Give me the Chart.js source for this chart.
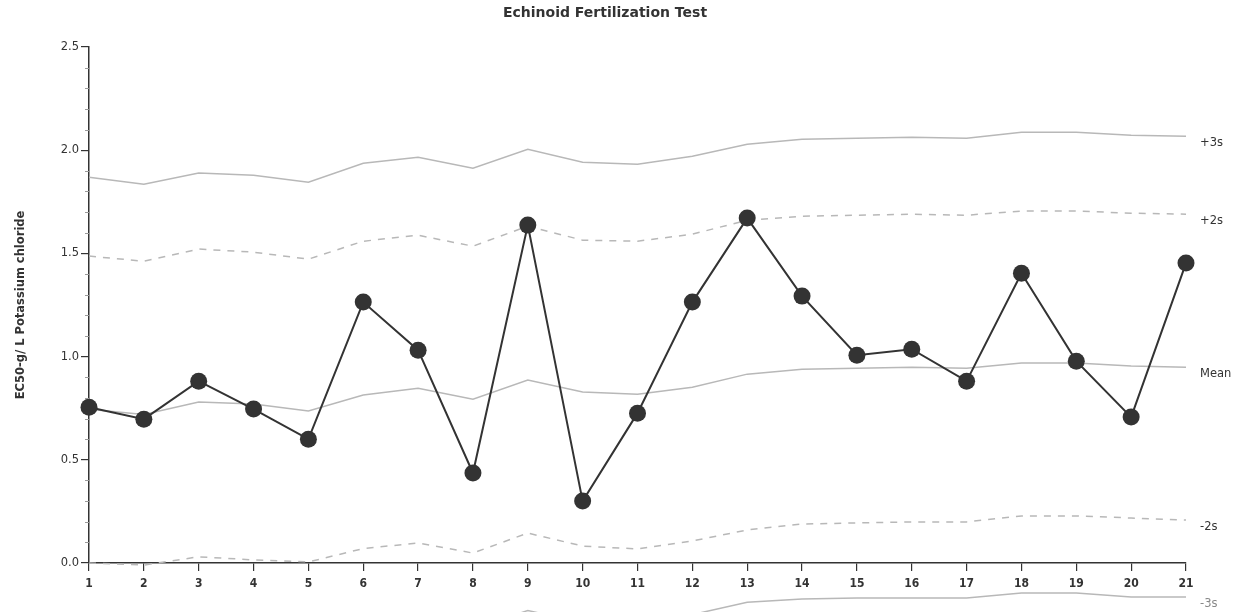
<!DOCTYPE html>
<html>
<head>
<meta charset="utf-8">
<script src="https://cdn.jsdelivr.net/npm/chart.js@4.4.1/dist/chart.umd.min.js"></script>
<style>
  html, body { margin: 0; padding: 0; background: #fff; }
  #wrap { width: 1235px; height: 612px; position: relative; }
</style>
</head>
<body>
<div id="wrap"><canvas id="qc"></canvas></div>
<script>
// Echinoid fertilization control chart
const testNumbers = ['1','2','3','4','5','6','7','8','9','10','11','12','13','14','15','16','17','18','19','20','21'];

const ec50 = [0.755, 0.697, 0.881, 0.746, 0.600, 1.264, 1.031, 0.436, 1.637, 0.300, 0.726,
              1.264, 1.671, 1.293, 1.007, 1.036, 0.881, 1.404, 0.978, 0.707, 1.453];

const meanLine = [0.745, 0.720, 0.780, 0.770, 0.736, 0.814, 0.847, 0.794, 0.886, 0.828, 0.818,
                  0.852, 0.915, 0.939, 0.944, 0.949, 0.944, 0.969, 0.969, 0.954, 0.949];

const plus3s = [1.869, 1.835, 1.889, 1.879, 1.845, 1.937, 1.966, 1.913, 2.005, 1.942, 1.932,
                1.971, 2.029, 2.053, 2.058, 2.063, 2.058, 2.087, 2.087, 2.073, 2.068];

const plus2s = [1.487, 1.462, 1.521, 1.506, 1.472, 1.559, 1.588, 1.535, 1.632, 1.564, 1.559,
                1.593, 1.661, 1.680, 1.685, 1.690, 1.685, 1.705, 1.705, 1.695, 1.690];

const minus2s = [0.000, -0.010, 0.030, 0.015, 0.005, 0.070, 0.097, 0.048, 0.145, 0.082, 0.068,
                 0.107, 0.160, 0.189, 0.194, 0.199, 0.199, 0.228, 0.228, 0.218, 0.208];

const minus3s = [-0.38, -0.40, -0.33, -0.34, -0.37, -0.31, -0.27, -0.32, -0.23, -0.29, -0.30,
                 -0.25, -0.19, -0.175, -0.17, -0.17, -0.17, -0.145, -0.145, -0.165, -0.165];

const yTicks = [0, 0.5, 1.0, 1.5, 2.0, 2.5];
const limitNames = ['+3s', '+2s', 'Mean', '-2s', '-3s'];

const INK = '#333333';
const LIMIT = '#b8b8b8';
const FONT = '"DejaVu Sans", Verdana, sans-serif';

// extra drawing: title, y title, minor ticks, right-hand limit labels
const decorPlugin = {
  id: 'decor',
  afterDraw(chart) {
    const ctx = chart.ctx;
    const y = chart.scales.y;
    const area = chart.chartArea;
    ctx.save();

    // title
    ctx.fillStyle = INK;
    ctx.font = 'bold 14px ' + FONT;
    ctx.textAlign = 'center';
    ctx.textBaseline = 'middle';
    ctx.fillText('Echinoid Fertilization Test', 605, 13);

    // y axis title
    ctx.save();
    ctx.translate(21, 305);
    ctx.rotate(-Math.PI / 2);
    ctx.font = 'bold 11.5px ' + FONT;
    ctx.fillText('EC50-g/ L Potassium chloride', 0, 0);
    ctx.restore();

    // minor ticks every 0.1
    ctx.strokeStyle = '#999';
    ctx.lineWidth = 1;
    for (let i = 1; i < 25; i++) {
      if (i % 5 === 0) continue;
      const py = Math.round(y.getPixelForValue(i / 10)) + 0.5;
      ctx.beginPath();
      ctx.moveTo(area.left - 4, py);
      ctx.lineTo(area.left, py);
      ctx.stroke();
    }

    // limit labels next to the last point of each limit series
    const series = [plus3s, plus2s, meanLine, minus2s, minus3s];
    ctx.font = '11.5px ' + FONT;
    ctx.textAlign = 'left';
    series.forEach((s, i) => {
      ctx.fillStyle = i === 4 ? '#888' : INK;
      const py = y.getPixelForValue(s[s.length - 1]) + 7;
      ctx.fillText(limitNames[i], area.right + 14, py);
    });
    ctx.restore();
  }
};

function limitSet(label, values, dashed) {
  return {
    label: label,
    data: values,
    borderColor: LIMIT,
    borderWidth: 1.5,
    borderDash: dashed ? [7, 7] : [],
    pointRadius: 0,
    tension: 0,
    fill: false,
    clip: false,
    order: 2
  };
}

new Chart(document.getElementById('qc'), {
  type: 'line',
  data: {
    labels: testNumbers,
    datasets: [
      {
        label: 'EC50',
        data: ec50,
        borderColor: INK,
        borderWidth: 2,
        pointRadius: 8.5,
        pointBackgroundColor: INK,
        pointBorderColor: INK,
        pointBorderWidth: 0,
        tension: 0,
        fill: false,
        clip: false,
        order: 1
      },
      limitSet('+3s', plus3s, false),
      limitSet('+2s', plus2s, true),
      limitSet('Mean', meanLine, false),
      limitSet('-2s', minus2s, true),
      limitSet('-3s', minus3s, false)
    ]
  },
  options: {
    responsive: true,
    maintainAspectRatio: false,
    animation: false,
    layout: { padding: { top: 47, right: 49, left: 0, bottom: 0 } },
    plugins: {
      legend: { display: false },
      title: { display: false },
      tooltip: { enabled: false }
    },
    scales: {
      x: {
        type: 'category',
        offset: false,
        grid: { drawOnChartArea: false, drawTicks: true, tickLength: 8, color: INK, lineWidth: 1.2 },
        border: { display: true, color: INK, width: 1.5 },
        ticks: {
          color: INK,
          padding: 6,
          maxRotation: 0,
          autoSkip: false,
          font: { family: '"DejaVu Sans Condensed", "DejaVu Sans", sans-serif', size: 12, weight: 'bold' }
        },
        afterFit(scale) { scale.height = 49; }
      },
      y: {
        min: 0,
        max: 2.5,
        afterBuildTicks(scale) { scale.ticks = yTicks.map(v => ({ value: v })); },
        grid: { drawOnChartArea: false, drawTicks: true, tickLength: 8, color: INK, lineWidth: 1.2 },
        border: { display: true, color: INK, width: 1.5 },
        ticks: {
          color: INK,
          padding: 2,
          font: { family: FONT, size: 11.5 },
          callback: (v) => Number(v).toFixed(1)
        },
        afterFit(scale) { scale.width = 89; }
      }
    }
  },
  plugins: [decorPlugin]
});
</script>
</body>
</html>
